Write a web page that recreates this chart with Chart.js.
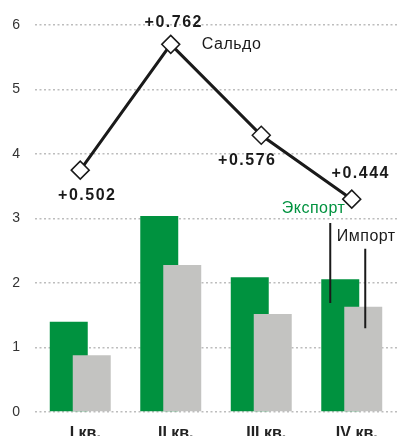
<!DOCTYPE html>
<html>
<head>
<meta charset="utf-8">
<script src="https://cdn.jsdelivr.net/npm/chart.js@4.4.1/dist/chart.umd.min.js"></script>
<style>
  html, body { margin: 0; padding: 0; background: #fff; overflow: hidden; }
  #chart { display: block; }
</style>
</head>
<body>
<canvas id="chart" width="397" height="450"></canvas>
<script>
const quarters = ['I кв.', 'II кв.', 'III кв.', 'IV кв.'];
const exportVals = [1.40, 3.04, 2.09, 2.06];
const importVals = [0.88, 2.28, 1.52, 1.63];
const saldoLine = [3.75, 5.70, 4.29, 3.30];
const saldoLabels = ['+0.502', '+0.762', '+0.576', '+0.444'];
const yTicks = [0, 1, 2, 3, 4, 5, 6];

const FONT = "'Liberation Sans', Arial, sans-serif";
const GREEN = '#00923f';
const GRAY = '#c3c3c1';

// where each saldo label sits relative to its point
const labelOffsets = [[7, 25], [3, -22], [-14, 25], [9, -26]];

// gray bars must sit on top of green ones, but green has to stay left in the group
const barOrderPlugin = {
  id: 'barOrder',
  beforeDatasetDraw(chart, args) {
    if (args.index === 1) return false;
    if (args.index === 2) chart.getDatasetMeta(1).controller.draw();
  }
};

const notesPlugin = {
  id: 'notes',
  afterDatasetsDraw(chart) {
    const ctx = chart.ctx;
    const x = chart.scales.x, y = chart.scales.y;
    const pts = chart.getDatasetMeta(0).data;
    ctx.save();
    ctx.textBaseline = 'middle';
    ctx.textAlign = 'center';
    ctx.fillStyle = '#1a1a1a';
    ctx.font = 'bold 16px ' + FONT;
    ctx.letterSpacing = '1.5px';
    saldoLabels.forEach((t, i) => {
      ctx.fillText(t, pts[i].x + labelOffsets[i][0], pts[i].y + labelOffsets[i][1]);
    });
    ctx.letterSpacing = '0.5px';
    ctx.font = '16px ' + FONT;
    ctx.textAlign = 'left';
    ctx.fillStyle = '#1a1a1a';
    ctx.fillText('Сальдо', pts[1].x + 31, pts[1].y);

    // legend labels with leader lines, next to the IV quarter bars
    const cx = x.getPixelForValue(3);
    ctx.fillStyle = GREEN;
    ctx.fillText('Экспорт', cx - 70, y.getPixelForValue(3.15));
    ctx.fillStyle = '#1a1a1a';
    ctx.fillText('Импорт', cx - 15, y.getPixelForValue(2.72));
    ctx.strokeStyle = '#1a1a1a';
    ctx.lineWidth = 2;
    ctx.beginPath();
    ctx.moveTo(cx - 21.5, y.getPixelForValue(2.93));
    ctx.lineTo(cx - 21.5, y.getPixelForValue(1.69));
    ctx.moveTo(cx + 13.5, y.getPixelForValue(2.53));
    ctx.lineTo(cx + 13.5, y.getPixelForValue(1.30));
    ctx.stroke();
    ctx.restore();
  }
};

new Chart(document.getElementById('chart'), {
  data: {
    labels: quarters,
    datasets: [
      {
        type: 'line',
        label: 'Сальдо',
        data: saldoLine,
        borderColor: '#1a1a1a',
        borderWidth: 3,
        pointStyle: 'rectRot',
        pointRadius: 9,
        pointBackgroundColor: '#ffffff',
        pointBorderColor: '#1a1a1a',
        pointBorderWidth: 1.5,
        tension: 0,
        order: 0
      },
      {
        type: 'bar',
        label: 'Экспорт',
        data: exportVals,
        backgroundColor: GREEN,
        categoryPercentage: 0.508,
        barPercentage: 1.652,
        order: 1
      },
      {
        type: 'bar',
        label: 'Импорт',
        data: importVals,
        backgroundColor: GRAY,
        categoryPercentage: 0.508,
        barPercentage: 1.652,
        order: 2
      }
    ]
  },
  options: {
    responsive: false,
    animation: false,
    devicePixelRatio: 1,
    layout: { autoPadding: false, padding: { top: 25, left: 0, right: 0, bottom: 0 } },
    plugins: { legend: { display: false }, tooltip: { enabled: false } },
    scales: {
      x: {
        grid: { display: false },
        border: { display: false },
        ticks: {
          padding: 4,
          labelOffset: 5,
          color: '#222',
          font: { family: FONT, size: 16, weight: 'bold' }
        },
        afterFit(scale) {
          scale.height = 38;
          scale.paddingLeft = 0;
          scale.paddingRight = 0;
        }
      },
      y: {
        min: 0,
        max: 6,
        afterBuildTicks(scale) { scale.ticks = yTicks.map(v => ({ value: v })); },
        grid: {
          color: '#bdbdbd',
          lineWidth: 1.5,
          drawTicks: false
        },
        border: { display: false, dash: [2, 2.5] },
        ticks: {
          padding: 15,
          color: '#333',
          font: { family: FONT, size: 14 }
        },
        afterFit(scale) { scale.width = 35; }
      }
    }
  },
  plugins: [barOrderPlugin, notesPlugin]
});
</script>
</body>
</html>
